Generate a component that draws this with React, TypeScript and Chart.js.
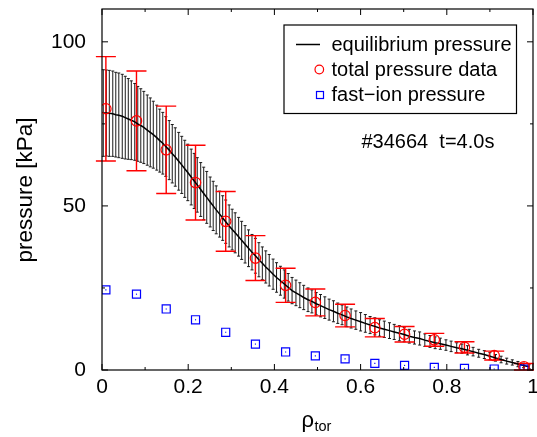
import React, { useEffect, useRef } from 'react';
import { Chart, registerables } from 'chart.js';

Chart.register(...registerables);

const FONT = '"Liberation Sans", Arial, Helvetica, sans-serif';

// ---- axes ----
const xTicks = [0, 0.2, 0.4, 0.6, 0.8, 1];
const xTickLabels = ['0', '0.2', '0.4', '0.6', '0.8', '1'];
const xMinorTicks = [0.1, 0.3, 0.5, 0.7, 0.9];
const yTicks = [0, 50, 100];
const yTickLabels = ['0', '50', '100'];
const yMinorTicks = [25, 75];

// ---- total pressure data (red circles with error bars) ----
const dataRho = [0.009, 0.080, 0.149, 0.217, 0.287, 0.356, 0.426, 0.495, 0.564, 0.633, 0.702, 0.771, 0.841, 0.910, 0.979];
const dataP = [79.6, 75.9, 67.1, 57.1, 45.3, 34.1, 25.8, 20.6, 16.6, 12.9, 10.9, 9.2, 6.9, 4.4, 1.0];
const dataErr = [15.9, 15.2, 13.3, 11.4, 9.1, 6.85, 5.2, 4.1, 3.45, 2.8, 2.35, 1.95, 1.7, 1.35, 1.0];

// ---- fast-ion pressure (blue squares) ----
const fastRho = [0.009, 0.080, 0.149, 0.217, 0.287, 0.356, 0.426, 0.495, 0.564, 0.633, 0.702, 0.771, 0.841, 0.910, 0.979];
const fastP = [24.4, 23.1, 18.6, 15.3, 11.5, 7.9, 5.5, 4.3, 3.4, 2.0, 1.4, 0.8, 0.5, 0.3, 0.3];

// ---- equilibrium pressure (black line with error band bars) ----
const eqRho = [
  0.003, 0.010, 0.017, 0.025, 0.032, 0.039, 0.047, 0.054, 0.061, 0.068,
  0.076, 0.083, 0.090, 0.097, 0.105, 0.112, 0.119, 0.127, 0.134, 0.141,
  0.148, 0.156, 0.163, 0.170, 0.178, 0.185, 0.192, 0.199, 0.207, 0.214,
  0.221, 0.229, 0.236, 0.243, 0.251, 0.258, 0.265, 0.273, 0.280, 0.287,
  0.295, 0.302, 0.309, 0.317, 0.324, 0.332, 0.340, 0.348, 0.356, 0.364,
  0.372, 0.380, 0.388, 0.397, 0.405, 0.414, 0.423, 0.432, 0.441, 0.450,
  0.459, 0.468, 0.478, 0.487, 0.497, 0.507, 0.517, 0.527, 0.537, 0.547,
  0.557, 0.568, 0.578, 0.589, 0.600, 0.611, 0.622, 0.633, 0.644, 0.655,
  0.667, 0.678, 0.690, 0.701, 0.713, 0.725, 0.737, 0.749, 0.761, 0.773,
  0.785, 0.798, 0.810, 0.823, 0.835, 0.848, 0.861, 0.874, 0.887, 0.900,
  0.913, 0.926, 0.939, 0.952, 0.965, 0.978, 0.991,
];
const eqP = [
  78.3, 78.3, 78.2, 78.1, 77.8, 77.6, 77.3, 76.9, 76.5, 76.1,
  75.6, 75.0, 74.5, 73.9, 73.1, 72.4, 71.7, 70.8, 69.9, 69.1,
  68.1, 67.0, 65.9, 64.9, 63.6, 62.5, 61.3, 60.2, 58.8, 57.6,
  56.4, 55.0, 53.8, 52.6, 51.2, 50.0, 48.8, 47.5, 46.3, 45.2,
  43.9, 42.8, 41.8, 40.6, 39.5, 38.3, 37.1, 35.9, 34.8, 33.6,
  32.5, 31.4, 30.4, 29.2, 28.2, 27.2, 26.2, 25.2, 24.2, 23.5,
  22.8, 22.1, 21.4, 20.9, 20.2, 19.6, 19.0, 18.4, 17.9, 17.3,
  16.8, 16.2, 15.7, 15.2, 14.7, 14.2, 13.7, 13.3, 12.8, 12.4,
  12.0, 11.6, 11.2, 10.8, 10.3, 9.9, 9.6, 9.1, 8.7, 8.3,
  8.0, 7.6, 7.2, 6.8, 6.5, 6.0, 5.6, 5.1, 4.7, 4.2,
  3.7, 3.2, 2.7, 2.3, 1.8, 1.4, 1.0,
];
const eqErr = [
  13.2, 13.1, 13.1, 13.0, 12.9, 12.9, 12.8, 12.6, 12.3, 12.0,
  11.7, 11.4, 11.2, 11.0, 10.7, 10.5, 10.2, 9.9, 9.6, 9.4,
  9.1, 9.0, 8.9, 8.9, 8.8, 8.7, 8.7, 8.6, 8.5, 8.4,
  8.3, 8.2, 8.0, 7.9, 7.6, 7.5, 7.3, 7.0, 6.8, 6.6,
  6.4, 6.2, 6.1, 5.9, 5.8, 5.7, 5.6, 5.4, 5.3, 5.2,
  5.0, 4.9, 4.8, 4.6, 4.5, 4.4, 4.3, 4.2, 4.0, 3.9,
  3.8, 3.7, 3.6, 3.5, 3.4, 3.4, 3.3, 3.2, 3.2, 3.1,
  3.0, 3.0, 2.9, 2.8, 2.8, 2.7, 2.6, 2.6, 2.5, 2.5,
  2.4, 2.3, 2.3, 2.2, 2.1, 2.0, 2.0, 1.9, 1.8, 1.8,
  1.7, 1.6, 1.6, 1.5, 1.4, 1.4, 1.3, 1.2, 1.2, 1.1,
  1.0, 1.0, 0.9, 0.8, 0.8, 0.7, 0.6,
];

// ---- text ----
const legendLabels = ['equilibrium pressure', 'total pressure data', 'fast\u2212ion pressure'];
const shotLabel = '#34664  t=4.0s';
const yTitle = 'pressure [kPa]';
const xTitleMain = '\u03c1';
const xTitleSub = 'tor';

const decorPlugin = {
  id: 'decor',
  beforeDatasetsDraw(chart: any) {
    const { ctx } = chart;
    const x = chart.scales.x;
    const y = chart.scales.y;
    ctx.save();
    // equilibrium error bars
    ctx.strokeStyle = '#1a1a1a';
    ctx.lineWidth = 1;
    ctx.beginPath();
    eqRho.forEach((r, i) => {
      const px = x.getPixelForValue(r);
      const yt = y.getPixelForValue(eqP[i] + eqErr[i]);
      const yb = y.getPixelForValue(eqP[i] - eqErr[i]);
      ctx.moveTo(px, yt);
      ctx.lineTo(px, yb);
      ctx.moveTo(px - 1.5, yt);
      ctx.lineTo(px + 1.5, yt);
      ctx.moveTo(px - 1.5, yb);
      ctx.lineTo(px + 1.5, yb);
    });
    ctx.stroke();
    // total pressure error bars
    ctx.strokeStyle = '#ff0000';
    ctx.lineWidth = 1.4;
    ctx.beginPath();
    dataRho.forEach((r, i) => {
      const px = x.getPixelForValue(r);
      const yt = y.getPixelForValue(dataP[i] + dataErr[i]);
      const yb = y.getPixelForValue(Math.max(0, dataP[i] - dataErr[i]));
      ctx.moveTo(px, yt);
      ctx.lineTo(px, yb);
      ctx.moveTo(px - 10, yt);
      ctx.lineTo(px + 10, yt);
      ctx.moveTo(px - 10, yb);
      ctx.lineTo(px + 10, yb);
    });
    ctx.stroke();
    ctx.restore();
  },
  afterDraw(chart: any) {
    const { ctx, chartArea: a } = chart;
    const x = chart.scales.x;
    const y = chart.scales.y;
    ctx.save();
    // frame
    ctx.strokeStyle = '#000';
    ctx.lineWidth = 1.2;
    ctx.strokeRect(a.left, a.top, a.right - a.left, a.bottom - a.top);
    // inward ticks on all four sides
    ctx.lineWidth = 1;
    ctx.beginPath();
    const xt = (v: number, len: number) => {
      const px = x.getPixelForValue(v);
      ctx.moveTo(px, a.bottom);
      ctx.lineTo(px, a.bottom - len);
      ctx.moveTo(px, a.top);
      ctx.lineTo(px, a.top + len);
    };
    const yt = (v: number, len: number) => {
      const py = y.getPixelForValue(v);
      ctx.moveTo(a.left, py);
      ctx.lineTo(a.left + len, py);
      ctx.moveTo(a.right, py);
      ctx.lineTo(a.right - len, py);
    };
    xTicks.forEach((v) => xt(v, 6));
    xMinorTicks.forEach((v) => xt(v, 3));
    yTicks.forEach((v) => yt(v, 6));
    yMinorTicks.forEach((v) => yt(v, 3));
    ctx.stroke();

    // y title
    ctx.fillStyle = '#000';
    ctx.save();
    ctx.translate(31.5, 190);
    ctx.rotate(-Math.PI / 2);
    ctx.font = `22.5px ${FONT}`;
    ctx.textAlign = 'center';
    ctx.textBaseline = 'alphabetic';
    ctx.fillText(yTitle, 0, 0);
    ctx.restore();

    // x title  rho_tor
    ctx.textAlign = 'left';
    ctx.textBaseline = 'alphabetic';
    ctx.font = `22px ${FONT}`;
    ctx.fillText(xTitleMain, 301.5, 427);
    const w = ctx.measureText(xTitleMain).width;
    ctx.font = `14.5px ${FONT}`;
    ctx.fillText(xTitleSub, 301.5 + w + 0.5, 431);

    // legend box
    ctx.lineWidth = 1.2;
    ctx.strokeStyle = '#000';
    ctx.strokeRect(284, 25, 232.5, 88.5);
    ctx.font = `20px ${FONT}`;
    ctx.fillText(legendLabels[0], 331.5, 51);
    ctx.fillText(legendLabels[1], 331.5, 76);
    ctx.fillText(legendLabels[2], 331.5, 101);
    ctx.lineWidth = 1.5;
    ctx.beginPath();
    ctx.moveTo(296, 44.5);
    ctx.lineTo(320, 44.5);
    ctx.stroke();
    ctx.strokeStyle = '#ff0000';
    ctx.lineWidth = 1.2;
    ctx.beginPath();
    ctx.arc(319.3, 69.5, 4.3, 0, Math.PI * 2);
    ctx.stroke();
    ctx.strokeStyle = '#0000ff';
    ctx.strokeRect(316.5, 91.5, 7, 7);

    // shot annotation
    ctx.fillStyle = '#000';
    ctx.font = `20px ${FONT}`;
    ctx.fillText(shotLabel, 361.5, 147.5);
    ctx.restore();
  },
};

const zeroPad = (s: any) => {
  s.paddingLeft = 0;
  s.paddingRight = 0;
  s.paddingTop = 0;
  s.paddingBottom = 0;
};

export default function App() {
  const ref = useRef<HTMLCanvasElement | null>(null);

  useEffect(() => {
    const canvas = ref.current;
    if (!canvas) return;
    const chart = new Chart(canvas, {
      type: 'scatter',
      data: {
        datasets: [
          {
            label: legendLabels[1],
            data: dataRho.map((r, i) => ({ x: r, y: dataP[i] })),
            pointStyle: 'circle',
            pointRadius: 5.2,
            pointBorderWidth: 1.2,
            borderColor: '#ff0000',
            backgroundColor: 'rgba(0,0,0,0)',
            order: 0,
          } as any,
          {
            label: 'fast-ion centre',
            data: fastRho.map((r, i) => ({ x: r, y: fastP[i] })),
            pointStyle: 'rect',
            pointRadius: 0.8,
            pointBorderWidth: 0,
            borderColor: '#0000ff',
            backgroundColor: '#0000ff',
            order: 0,
          } as any,
          {
            label: legendLabels[2],
            data: fastRho.map((r, i) => ({ x: r, y: fastP[i] })),
            pointStyle: 'rect',
            pointRadius: 5.7,
            pointBorderWidth: 1.2,
            borderColor: '#0000ff',
            backgroundColor: 'rgba(0,0,0,0)',
            order: 1,
          } as any,
          {
            label: legendLabels[0],
            data: eqRho.map((r, i) => ({ x: r, y: eqP[i] })),
            showLine: true,
            borderColor: '#000',
            borderWidth: 1.5,
            pointRadius: 0,
            tension: 0,
            fill: false,
            order: 2,
          } as any,
        ],
      },
      options: {
        animation: false,
        responsive: false,
        devicePixelRatio: 1,
        events: [],
        layout: { padding: { top: 9, right: 4, left: 0, bottom: 0 }, autoPadding: false } as any,
        plugins: { legend: { display: false }, tooltip: { enabled: false }, title: { display: false } },
        scales: {
          x: {
            type: 'linear',
            min: 0,
            max: 1,
            grid: { display: false, drawTicks: false },
            border: { display: false },
            afterBuildTicks: (s: any) => {
              s.ticks = xTicks.map((v) => ({ value: v }));
            },
            afterFit: (s: any) => {
              s.height = 67;
              zeroPad(s);
            },
            ticks: {
              padding: 5,
              color: '#000',
              maxRotation: 0,
              autoSkip: false,
              font: { family: FONT, size: 21 },
              callback: (_v: any, i: number) => xTickLabels[i],
            },
          },
          y: {
            type: 'linear',
            min: 0,
            max: 110,
            grid: { display: false, drawTicks: false },
            border: { display: false },
            afterBuildTicks: (s: any) => {
              s.ticks = yTicks.map((v) => ({ value: v }));
            },
            afterFit: (s: any) => {
              s.width = 102;
              zeroPad(s);
            },
            ticks: {
              padding: 16,
              color: '#000',
              autoSkip: false,
              font: { family: FONT, size: 21 },
              callback: (_v: any, i: number) => yTickLabels[i],
            },
          },
        },
      } as any,
      plugins: [decorPlugin as any],
    });
    return () => chart.destroy();
  }, []);

  return (
    <div style={{ position: 'absolute', left: 0, top: 0, width: 537, height: 437, background: '#fff' }}>
      <canvas ref={ref} width={537} height={437} style={{ display: 'block', width: 537, height: 437 }} />
    </div>
  );
}
